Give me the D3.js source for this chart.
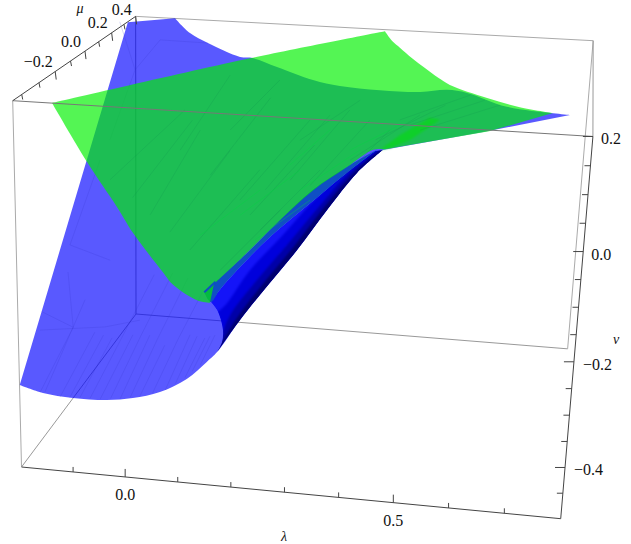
<!DOCTYPE html>
<html>
<head>
<meta charset="utf-8">
<script src="https://d3js.org/d3.v7.min.js"></script>
<style>
    body { margin: 0; background: #fff; }
    text { font-family: "Liberation Serif", serif; font-size: 16px; fill: #111; }
    .greek { font-style: italic; font-size: 14px; }
</style>
</head>
<body>
<svg width="631" height="544"></svg>
<script>
    // tick values on the three box axes
    var lambdaTicks = [-0.1, 0, 0.1, 0.2, 0.3, 0.4, 0.5, 0.6, 0.7];
    var lambdaLabels = [0, 0.5];
    var muTicks = [-0.4, -0.3, -0.2, -0.1, 0, 0.1, 0.2, 0.3, 0.4];
    var muLabels = [-0.2, 0, 0.2, 0.4];
    var nuTicks = [0.2, 0.15, 0.1, 0.05, 0, -0.05, -0.1, -0.15, -0.2, -0.25, -0.3, -0.35, -0.4, -0.45];
    var nuLabels = [0.2, 0, -0.2, -0.4];

    // surface outlines, [lambda, mu, nu] in thousandths
    var blueSheet = [[-204,-437,-340],[-207,359,194],[-105,376,205],[-63,340,181],[-18,317,166],[59,287,146],[87,287,145],[143,268,133],
        [225,242,115],[284,231,108],[369,227,105],[453,228,106],[508,236,112],[550,232,109],[634,205,91],[729,197,85],[763,195,84],
        [592,144,50],[395,90,13],[351,35,-23],[305,-48,-79],[261,-136,-138],[221,-206,-185],[179,-282,-236],
        [149,-346,-279],[134,-366,-292],[104,-400,-315],[60,-427,-334],[13,-442,-344],[-34,-450,-349],[-98,-452,-350],[-156,-448,-347]];
    var blueCorners = [0, 1, 2, 16, 17, 18];
    var greenSheet = [[-129,-449,200],[132,16,201],[355,403,196],[372,400,176],[390,400,162],[417,400,141],[446,400,121],[476,400,101],[502,400,87],[579,516,37],[651,587,4],
        [726,669,-24],[592,422,-16],[395,133,4],[374,103,9],[334,8,-5],[285,-110,-23],[242,-233,-50],[203,-354,-79],
        [166,-464,-104],[167,-501,-126],[147,-515,-118],[109,-535,-86],[90,-531,-66],
        [34,-519,-3],[2,-505,37],[-57,-484,108]];
    var greenCorners = [0, 2, 11, 12, 13, 19, 20];
    var foldStrip = [[99,-233,-204],[165,-149,-147],[216,-76,-98],[269,-8,-52],[329,47,-15],[383,89,13],[380,86,11],[331,34,-24],
        [285,-18,-59],[235,-75,-97],[198,-120,-127],[157,-178,-167],[128,-227,-199],[116,-252,-216]];
    var foldNotch = [[99,-233,-204],[116,-211,-189]];
    var foldEdge = [[395,90,13],[351,35,-23],[305,-48,-79],[261,-136,-138],[221,-206,-185],[179,-282,-236],[149,-346,-279]];
    var foldRail1 = [[391,89,13],[345,37,-22],[296,-45,-77],[252,-130,-134],[211,-200,-182],[171,-279,-234],[154,-326,-266]];
    var foldRail2 = [[387,89,13],[338,39,-21],[287,-41,-75],[241,-123,-129],[199,-193,-177],[159,-270,-228],[151,-304,-251]];
    var foldRail3 = [[383,89,13],[330,40,-20],[274,-34,-69],[225,-111,-122],[178,-183,-170],[146,-255,-218],[134,-270,-228]];
    var greenStreak = [[386,119,5],[418,200,19],[469,314,32],[490,335,24],[438,213,6],[404,147,3]];

    // faint mesh edges, each row is one segment
    var blueMesh = [[[-122,-452,-350],[-91,-327,-267]],[[-85,-451,-349],[-55,-336,-272]],[[-47,-449,-349],[-17,-327,-266]],
        [[-10,-446,-346],[15,-324,-265]],[[25,-438,-341],[48,-341,-276]],[[69,-423,-331],[91,-318,-260]],[[100,-398,-314],[120,-321,-263]],
        [[123,-372,-297],[138,-314,-258]],[[-153,-446,-346],[-127,-267,-226]],[[-204,-297,-246],[-135,-321,-263]],
        [[-135,-321,-263],[-176,-215,-191]],[[-197,-332,-270],[-74,-316,-259]],[[-74,-316,-259],[-11,-297,-247]],
        [[-135,-321,-263],[-162,-446,-347]],[[-225,358,194],[-160,241,115]],[[-160,241,115],[-124,318,167]],
        [[-124,318,167],[-18,317,166]],[[-160,241,115],[-170,73,2]],[[-188,-160,-154],[-100,-184,-171]],[[-188,-160,-154],[-178,26,-29]],
        [[-104,-451,-350],[-73,-331,-270]],[[-66,-450,-349],[-36,-331,-269]],[[-28,-447,-347],[-1,-325,-265]],[[8,-442,-343],[31,-332,-270]],
        [[47,-430,-336],[70,-330,-268]],[[85,-410,-322],[105,-320,-261]],[[111,-385,-305],[129,-317,-260]],
        [[-36,-331,-269],[-6,-206,-186]],[[-1,-325,-265],[29,-200,-182]],[[31,-332,-270],[61,-207,-187]],[[70,-330,-268],[95,-230,-205]]];
    var greenMeshDark = [[[50,-462,14],[86,-225,111]],[[65,-299,90],[108,-61,182]],[[131,-166,100],[189,38,156]],[[-19,-474,76],[55,-218,146]],
        [[119,-450,-49],[192,-181,30]],[[173,-274,-4],[254,23,82]],[[244,-139,2],[319,135,81]],[[245,-40,56],[334,180,92]],
        [[413,233,43],[543,476,50]],[[454,260,17],[608,535,18]],[[337,29,4],[449,295,41]],[[313,-75,-31],[398,187,32]],
        [[215,-289,-54],[289,-56,3]],[[170,-431,-89],[239,-215,-36]],
        [[20,-468,45],[70,-221,128]],[[84,-456,-17],[139,-203,70]],[[119,-286,43],[181,-19,132]],[[208,-206,-1],[286,79,81]],
        [[194,-281,-29],[271,-16,42]],[[278,-107,-15],[358,161,56]],[[375,131,23],[496,385,45]],[[433,246,30],[575,505,34]]];
    var greenMeshBright = [[[128,-408,-34],[200,-217,1]],[[179,-301,-25],[256,-99,12]],[[238,-110,24],[292,47,59]],
        [[263,-137,-17],[351,73,15]],[[211,-316,-65],[283,-136,-36]],[[333,50,19],[415,222,35]]];

    var svg = d3.select("svg");

    var lam = d3.scaleLinear().domain([-0.2, 0.8]).range([0, 1]),
        mu = d3.scaleLinear().domain([-0.45, 0.4]).range([0, 1]),
        nu = d3.scaleLinear().domain([-0.5, 0.2]).range([0, 1]);

    // perspective camera fitted on the box corners
    function project(l, m, n) {
        var u = lam(l), v = mu(m), w = nu(n);
        var d = 1 - 0.048 * u + 0.25 * v - 0.068 * w;
        return [(21.5 + 512.3 * u + 148.5 * v - 9.66 * w) / d,
                (467 + 26.8 * u - 74.5 * v - 373.15 * w) / d];
    }
    function pt(t) { return project(t[0] / 1000, t[1] / 1000, t[2] / 1000); }

    var smooth = d3.line().curve(d3.curveCatmullRom.alpha(0.5));

    // closed path, smooth between the corner indices
    function outline(pts, corners) {
        var d = "";
        corners.forEach(function (c, k) {
            var next = k + 1 < corners.length ? corners[k + 1] : pts.length;
            var piece = pts.slice(c, next + 1);
            if (next === pts.length) piece.push(pts[corners[0]]);
            var s = smooth(piece.map(pt));
            d += k === 0 ? s : "L" + s.slice(1);
        });
        return d + "Z";
    }
    function railBand(a, b) {
        return outline(a.concat(b.slice().reverse()), [0, a.length - 1, a.length]);
    }
    function polygon(pts) { return d3.line()(pts.map(pt)) + "Z"; }

    function boxLine(a, b, col, w) {
        var p = project(a[0], a[1], a[2]), q = project(b[0], b[1], b[2]);
        return svg.append("line").attr("x1", p[0]).attr("y1", p[1]).attr("x2", q[0]).attr("y2", q[1])
            .attr("stroke", col).attr("stroke-width", w);
    }
    function meshLines(rows, col, op, w) {
        svg.append("g").selectAll("line").data(rows).enter().append("line")
            .attr("x1", function (d) { return pt(d[0])[0]; }).attr("y1", function (d) { return pt(d[0])[1]; })
            .attr("x2", function (d) { return pt(d[1])[0]; }).attr("y2", function (d) { return pt(d[1])[1]; })
            .attr("stroke", col).attr("stroke-opacity", op).attr("stroke-width", w);
    }

    var L0 = -0.2, L1 = 0.8, M0 = -0.45, M1 = 0.4, N0 = -0.5, N1 = 0.2;

    // box edges behind the surfaces
    boxLine([L0, M1, N0], [L0, M1, N1], "#8a8a8a", 1);
    boxLine([L0, M1, N0], [L1, M1, N0], "#999", 1);
    boxLine([L0, M1, N0], [L0, M0, N0], "#999", 1);
    boxLine([L1, M1, N0], [L1, M1, N1], "#aaa", 1);
    boxLine([L1, M1, N1], [L0, M1, N1], "#aaa", 1);
    boxLine([L0, M0, N0], [L0, M0, N1], "#aaa", 1);
    boxLine([L1, M0, N1], [L1, M1, N1], "#999", 1);

    // blue surface
    svg.append("path").attr("d", outline(blueSheet, blueCorners)).attr("fill", "#0000ff").attr("fill-opacity", 0.65);
    meshLines(blueMesh, "#3333cc", 0.28, 0.7);

    // folded part, dark at the outer edge, rounded end taken from the rail ends
    var stripLow = foldStrip.slice(6);
    var railEnds = [foldRail1[6], foldRail2[6], foldRail3[6]];
    var foldShape = foldEdge.concat(railEnds, stripLow.slice().reverse());
    var foldPath = outline(foldShape, [0, 6, 10, foldShape.length - 1]);

    var defs = svg.append("defs");
    defs.append("clipPath").attr("id", "foldClip").append("path").attr("d", foldPath);
    defs.append("filter").attr("id", "soft").append("feGaussianBlur").attr("stdDeviation", 1.1);

    var fold = svg.append("g").attr("clip-path", "url(#foldClip)");
    fold.append("path").attr("d", foldPath).attr("fill", "#1414f8");
    var foldSoft = fold.append("g").attr("filter", "url(#soft)");
    var rails = [foldEdge, foldRail1, foldRail2, foldRail3];
    var railColor = ["#00006e", "#0000a8", "#0000dc"];
    d3.range(3).forEach(function (i) {
        foldSoft.append("path").attr("d", railBand(rails[i], rails[i + 1]))
            .attr("fill", railColor[i]).attr("stroke", railColor[i]).attr("stroke-width", 0.5);
    });
    foldSoft.append("path").attr("d", smooth(foldEdge.map(pt))).attr("fill", "none")
        .attr("stroke", "#00006e").attr("stroke-width", 4);
    svg.append("path").attr("d", outline(foldStrip, [0, 5, 6])).attr("fill", "#0f4fc4");

    // green surface
    svg.append("path").attr("d", outline(greenSheet, greenCorners)).attr("fill", "#00f000").attr("fill-opacity", 0.67);
    svg.append("path").attr("d", polygon(greenStreak)).attr("fill", "#00e000").attr("fill-opacity", 0.5).attr("filter", "url(#soft)");
    meshLines(greenMeshDark, "#0a7a50", 0.26, 0.6);
    meshLines(greenMeshBright, "#00d840", 0.5, 0.7);
    meshLines([foldNotch], "#0f4fc4", 1, 2);

    // front edges over the surfaces
    boxLine([L0, M0, N1], [L1, M0, N1], "#777", 1);
    boxLine([L0, M0, N1], [L0, M1, N1], "#444", 1);
    boxLine([L0, M0, N0], [L1, M0, N0], "#444", 1);
    boxLine([L1, M0, N0], [L1, M0, N1], "#444", 1);

    function tick(p, dx, dy) {
        svg.append("line").attr("x1", p[0]).attr("y1", p[1]).attr("x2", p[0] + dx).attr("y2", p[1] + dy)
            .attr("stroke", "#444").attr("stroke-width", 1);
    }
    function isLabel(list, t) { return list.indexOf(t) >= 0; }
    function fmt(v) { return (v < 0 ? "\u2212" : "") + d3.format(".1f")(Math.abs(v)); }

    lambdaTicks.forEach(function (t) {
        var p = project(t, M0, N0);
        tick(p, 0, isLabel(lambdaLabels, t) ? -8 : -5);
        if (isLabel(lambdaLabels, t))
            svg.append("text").attr("x", p[0]).attr("y", p[1] + 23).attr("text-anchor", "middle").text(fmt(t));
    });
    muTicks.forEach(function (t) {
        var p = project(L0, t, N1);
        tick(p, 1, isLabel(muLabels, t) ? 8 : 5);
        if (isLabel(muLabels, t))
            svg.append("text").attr("x", p[0] - (t < 0 ? 17 : 14)).attr("y", Math.max(p[1] - 4.5, 14.5))
                .attr("text-anchor", "middle").text(fmt(t));
    });
    nuTicks.forEach(function (t) {
        var p = project(L1, M0, t);
        var major = isLabel(nuLabels, t);
        tick(p, major ? -10 : -6, 0);
        if (major)
            svg.append("text").attr("x", p[0] + (t < 0 ? 9 : 8)).attr("y", p[1] + 8).text(fmt(t));
    });

    svg.append("text").attr("class", "greek").attr("x", 80).attr("y", 13).attr("text-anchor", "middle").text("\u03bc");
    svg.append("text").attr("class", "greek").attr("x", 284).attr("y", 541).attr("text-anchor", "middle").text("\u03bb");
    svg.append("text").attr("class", "greek").attr("x", 616).attr("y", 344).attr("text-anchor", "middle").text("\u03bd");
</script>
</body>
</html>
